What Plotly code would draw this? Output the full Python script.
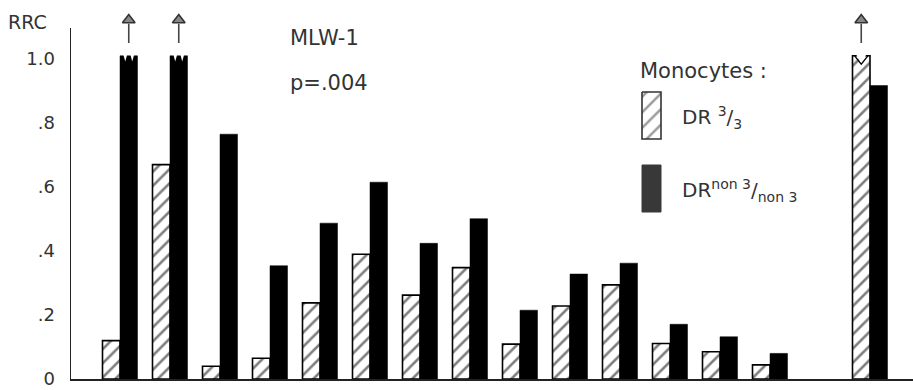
import plotly.graph_objects as go

# ---- data ----
positions = [1, 2, 3, 4, 5, 6, 7, 8, 9, 10, 11, 12, 13, 14, 16]
dr33 = [0.12, 0.67, 0.04, 0.065, 0.238, 0.39, 0.262, 0.348, 0.109, 0.228, 0.294, 0.111, 0.085, 0.044, 1.01]
drnon = [1.01, 1.01, 0.765, 0.354, 0.487, 0.615, 0.424, 0.501, 0.215, 0.328, 0.362, 0.171, 0.132, 0.08, 0.917]
broken_dr33 = [16]          # off-scale bars (broken top + arrow)
broken_drnon = [1, 2]
ytick_vals = [0, 0.2, 0.4, 0.6, 0.8, 1.0]
ytick_text = ["0", ".2", ".4", ".6", ".8", "1.0"]

FONT = "DejaVu Sans"
TXT = "#333333"

W, H = 913, 390
ML, MR, MT, MB = 70, 0, 0, 11
PX_PER_UNIT = 320.0
YMAX = (H - MT - MB) / PX_PER_UNIT      # full plot height in data units
YAXIS_TOP = 1.097                        # where the drawn y-axis line ends
XMAX = 16.86
BARGAP = 0.3
HALF = (1 - BARGAP) / 2  # width of one bar in data units

fig = go.Figure()
fig.add_trace(go.Bar(
    x=positions, y=dr33, name="DR 3/3",
    marker=dict(color="white", line=dict(color="black", width=1.6),
                pattern=dict(shape="/", fgcolor="black", bgcolor="white", size=10, solidity=0.26)),
))
fig.add_trace(go.Bar(
    x=positions, y=drnon, name="DR non3/non3",
    marker=dict(color="black", line=dict(color="black", width=0.5)),
))

# ---- arrows above off-scale bars (positions derived from the bars) ----
arrow_x = [p + HALF / 2 for p in broken_drnon] + [p - HALF / 2 for p in broken_dr33]
for ax_ in arrow_x:
    fig.add_trace(go.Scatter(x=[ax_, ax_], y=[1.05, 1.11], mode="lines",
                             line=dict(color="#444", width=1.6), hoverinfo="skip", showlegend=False,
                             cliponaxis=False))
fig.add_trace(go.Scatter(x=arrow_x, y=[1.122] * len(arrow_x), mode="markers",
                         marker=dict(symbol="triangle-up", size=11, color="#888",
                                     line=dict(color="#333", width=1.6)),
                         hoverinfo="skip", showlegend=False, cliponaxis=False))

# ---- legend boxes drawn on an overlay pixel-space axis ----
def px_box(x0, y0, x1, y1):
    return [x0, x1, x1, x0, x0], [y0, y0, y1, y1, y0]

bx, by = px_box(642, 92, 661, 139)
fig.add_trace(go.Scatter(x=bx, y=by, xaxis="x2", yaxis="y2", mode="lines", fill="toself",
                         fillcolor="white", line=dict(color="#333", width=1.6),
                         fillpattern=dict(shape="/", fgcolor="#333", bgcolor="white", size=11, solidity=0.22),
                         hoverinfo="skip", showlegend=False))
bx, by = px_box(642, 165, 661, 212)
fig.add_trace(go.Scatter(x=bx, y=by, xaxis="x2", yaxis="y2", mode="lines", fill="toself",
                         fillcolor="#383838", line=dict(color="#383838", width=1),
                         hoverinfo="skip", showlegend=False))

shapes = []
annotations = []

# y-axis line (stops below the arrows)
shapes.append(dict(type="line", xref="x", yref="y", x0=0, x1=0, y0=0, y1=YAXIS_TOP,
                   line=dict(color="#222", width=2)))

def py2paper(py):
    return (H - MB - py) / (H - MT - MB)

# broken tops
notch = 0.018
for p in broken_drnon:
    v = drnon[positions.index(p)]
    xl, xr = p, p + HALF
    w = xr - xl
    for c in (xl + w * 0.3, xl + w * 0.7):
        shapes.append(dict(type="path", xref="x", yref="y",
                           path=f"M {c - w*0.14},{v + 0.01} L {c},{v - notch} L {c + w*0.14},{v + 0.01} Z",
                           fillcolor="white", line=dict(width=0)))
for p in broken_dr33:
    v = dr33[positions.index(p)]
    xl, xr = p - HALF, p
    w = xr - xl
    c = (xl + xr) / 2
    shapes.append(dict(type="path", xref="x", yref="y",
                       path=f"M {xl + w*0.15},{v + 0.01} L {c},{v - 0.026} L {xr - w*0.15},{v + 0.01} Z",
                       fillcolor="white", line=dict(width=0)))
    shapes.append(dict(type="path", xref="x", yref="y",
                       path=f"M {xl + w*0.12},{v} L {c},{v - 0.026} L {xr - w*0.12},{v}",
                       line=dict(color="black", width=1.3)))

def txt(text, x, y, size=17, xanchor="left"):
    annotations.append(dict(text=text, x=(x - ML) / (W - ML - MR), y=py2paper(y), xref="paper", yref="paper",
                            showarrow=False, xanchor=xanchor, yanchor="middle",
                            font=dict(family=FONT, size=size, color=TXT)))

txt("RRC", 6, 22, 19)
txt("MLW-1", 288, 38, 21)
txt("p=.004", 288, 83, 21)
txt("Monocytes :", 638, 71, 21)
txt("DR <sup>3</sup>/<sub>3</sub>", 680, 117, 20)
txt("DR<sup>non 3</sup>/<sub>non 3</sub>", 680, 190, 20)

fig.update_layout(
    width=W, height=H,
    margin=dict(l=ML, r=MR, t=MT, b=MB, pad=0),
    paper_bgcolor="white", plot_bgcolor="white",
    barmode="group", bargap=BARGAP, bargroupgap=0,
    showlegend=False,
    font=dict(family=FONT, color=TXT),
    xaxis=dict(range=[0, XMAX], showline=True, linecolor="#222", linewidth=2,
               showticklabels=False, ticks="", showgrid=False, zeroline=False, fixedrange=True),
    yaxis=dict(range=[0, YMAX], showline=False,
               tickvals=ytick_vals, ticktext=ytick_text, ticks="", ticklabelstandoff=14,
               tickfont=dict(family=FONT, size=18, color=TXT),
               showgrid=False, zeroline=False, fixedrange=True),
    xaxis2=dict(range=[ML, W - MR], overlaying="x", visible=False, fixedrange=True),
    yaxis2=dict(range=[H - MB, MT], overlaying="y", visible=False, fixedrange=True),
    shapes=shapes,
    annotations=annotations,
)

fig.write_html("out.html")
